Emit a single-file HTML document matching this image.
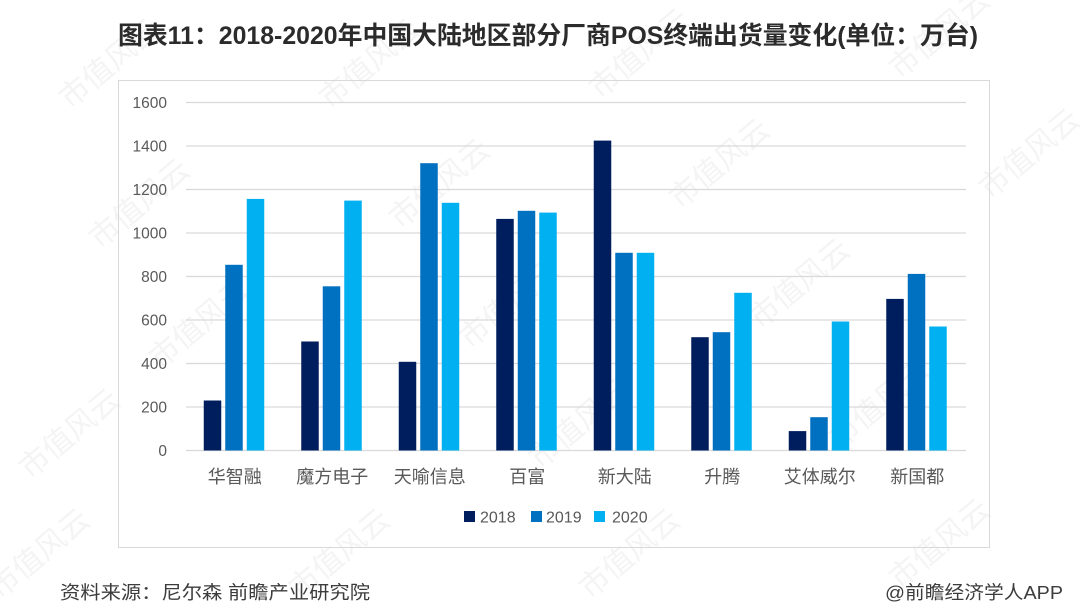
<!DOCTYPE html>
<html>
<head>
<meta charset="utf-8">
<style>
  html,body{margin:0;padding:0;background:#fff;}
  svg{display:block;}
  .t{font-family:"Liberation Sans","Noto Sans CJK SC",sans-serif;}
</style>
</head>
<body>
<svg width="1080" height="615" viewBox="0 0 1080 615" xmlns="http://www.w3.org/2000/svg">
  <rect width="1080" height="615" fill="#ffffff"/>

  <!-- faint watermarks -->
  <g class="t" font-size="30" fill="#f4f4f4">
    <text transform="translate(70,110) rotate(-40)">市值风云</text>
    <text transform="translate(330,110) rotate(-40)">市值风云</text>
    <text transform="translate(600,100) rotate(-40)">市值风云</text>
    <text transform="translate(900,80) rotate(-40)">市值风云</text>
    <text transform="translate(100,250) rotate(-40)">市值风云</text>
    <text transform="translate(400,230) rotate(-40)">市值风云</text>
    <text transform="translate(680,210) rotate(-40)">市值风云</text>
    <text transform="translate(990,200) rotate(-40)">市值风云</text>
    <text transform="translate(160,370) rotate(-40)">市值风云</text>
    <text transform="translate(470,350) rotate(-40)">市值风云</text>
    <text transform="translate(760,330) rotate(-40)">市值风云</text>
    <text transform="translate(30,480) rotate(-40)">市值风云</text>
    <text transform="translate(540,470) rotate(-40)">市值风云</text>
    <text transform="translate(840,450) rotate(-40)">市值风云</text>
    <text transform="translate(0,600) rotate(-40)">市值风云</text>
    <text transform="translate(300,600) rotate(-40)">市值风云</text>
    <text transform="translate(590,600) rotate(-40)">市值风云</text>
    <text transform="translate(900,590) rotate(-40)">市值风云</text>
  </g>

  <!-- Title -->
  <text class="t" x="118" y="44" font-size="25" font-weight="bold" fill="#2b2b2b" textLength="860" lengthAdjust="spacingAndGlyphs">图表11：2018-2020年中国大陆地区部分厂商POS终端出货量变化(单位：万台)</text>

  <!-- chart frame -->
  <rect x="118.5" y="80.5" width="871" height="467" fill="none" stroke="#d9d9d9" stroke-width="1"/>

  <!-- gridlines -->
  <g stroke="#d9d9d9" stroke-width="1.2">
    <line x1="186" y1="450.5" x2="966" y2="450.5"/>
    <line x1="186" y1="407" x2="966" y2="407"/>
    <line x1="186" y1="363.5" x2="966" y2="363.5"/>
    <line x1="186" y1="320" x2="966" y2="320"/>
    <line x1="186" y1="276.5" x2="966" y2="276.5"/>
    <line x1="186" y1="233" x2="966" y2="233"/>
    <line x1="186" y1="189.5" x2="966" y2="189.5"/>
    <line x1="186" y1="146" x2="966" y2="146"/>
    <line x1="186" y1="102.5" x2="966" y2="102.5"/>
  </g>

  <!-- y labels -->
  <g class="t" font-size="15.5" fill="#595959" text-anchor="end">
    <text x="167" y="456">0</text>
    <text x="167" y="412.5">200</text>
    <text x="167" y="369">400</text>
    <text x="167" y="325.5">600</text>
    <text x="167" y="282">800</text>
    <text x="167" y="238.5">1000</text>
    <text x="167" y="195">1200</text>
    <text x="167" y="151.5">1400</text>
    <text x="167" y="108">1600</text>
  </g>

  <!-- bars 2018 -->
  <g fill="#001E5E">
    <rect x="203.75" y="400.5" width="17.5" height="50"/>
    <rect x="301.25" y="341.5" width="17.5" height="109"/>
    <rect x="398.75" y="361.8" width="17.5" height="88.7"/>
    <rect x="496.25" y="218.9" width="17.5" height="231.6"/>
    <rect x="593.75" y="140.6" width="17.5" height="309.9"/>
    <rect x="691.25" y="337.2" width="17.5" height="113.3"/>
    <rect x="788.75" y="431.1" width="17.5" height="19.4"/>
    <rect x="886.25" y="298.9" width="17.5" height="151.6"/>
  </g>
  <!-- bars 2019 -->
  <g fill="#0070C0">
    <rect x="225.25" y="264.8" width="17.5" height="185.7"/>
    <rect x="322.75" y="286.3" width="17.5" height="164.2"/>
    <rect x="420.25" y="163.2" width="17.5" height="287.3"/>
    <rect x="517.75" y="210.8" width="17.5" height="239.7"/>
    <rect x="615.25" y="252.8" width="17.5" height="197.7"/>
    <rect x="712.75" y="332.2" width="17.5" height="118.3"/>
    <rect x="810.25" y="417.2" width="17.5" height="33.3"/>
    <rect x="907.75" y="273.9" width="17.5" height="176.6"/>
  </g>
  <!-- bars 2020 -->
  <g fill="#00B0F0">
    <rect x="246.75" y="198.9" width="17.5" height="251.6"/>
    <rect x="344.25" y="200.6" width="17.5" height="249.9"/>
    <rect x="441.75" y="202.8" width="17.5" height="247.7"/>
    <rect x="539.25" y="212.6" width="17.5" height="237.9"/>
    <rect x="636.75" y="252.8" width="17.5" height="197.7"/>
    <rect x="734.25" y="292.8" width="17.5" height="157.7"/>
    <rect x="831.75" y="321.5" width="17.5" height="129"/>
    <rect x="929.25" y="326.5" width="17.5" height="124"/>
  </g>

  <!-- category labels -->
  <g class="t" font-size="18" fill="#595959" text-anchor="middle">
    <text x="234.75" y="483">华智融</text>
    <text x="332.25" y="483">魔方电子</text>
    <text x="429.75" y="483">天喻信息</text>
    <text x="527.25" y="483">百富</text>
    <text x="624.75" y="483">新大陆</text>
    <text x="722.25" y="483">升腾</text>
    <text x="819.75" y="483">艾体威尔</text>
    <text x="917.25" y="483">新国都</text>
  </g>

  <!-- legend -->
  <rect x="464" y="511" width="11" height="11" fill="#001E5E"/>
  <rect x="531" y="511" width="11" height="11" fill="#0070C0"/>
  <rect x="594" y="511" width="11" height="11" fill="#00B0F0"/>
  <g class="t" font-size="16" fill="#595959">
    <text x="480" y="522.5">2018</text>
    <text x="546" y="522.5">2019</text>
    <text x="612" y="522.5">2020</text>
  </g>

  <!-- footer -->
  <text class="t" x="60" y="599" font-size="18.5" fill="#3c3c3c" textLength="310" lengthAdjust="spacingAndGlyphs">资料来源：尼尔森 前瞻产业研究院</text>
  <text class="t" x="885" y="599" font-size="18.5" fill="#3c3c3c" textLength="178" lengthAdjust="spacingAndGlyphs">@前瞻经济学人APP</text>
</svg>
</body>
</html>
